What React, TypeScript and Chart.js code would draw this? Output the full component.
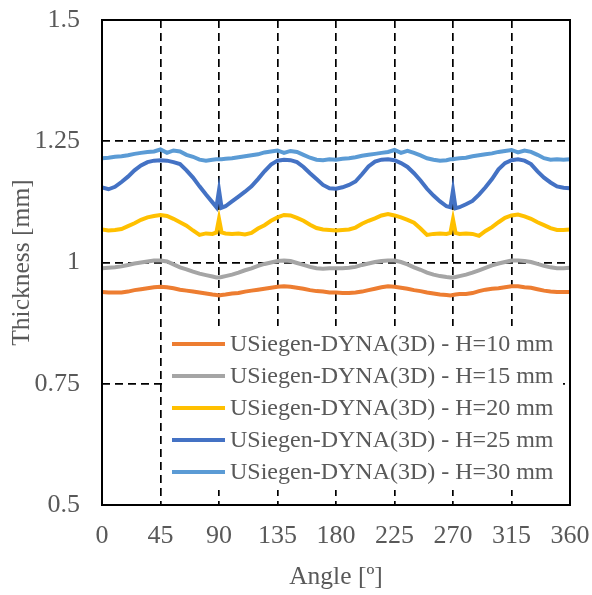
import React, { useEffect, useRef } from "react";
import { Chart, registerables } from "chart.js";
Chart.register(...registerables);

const angles = [0, 5, 10, 15, 20, 25, 30, 35, 40, 45, 50, 55, 60, 65, 70, 75, 80, 85, 88, 90, 92, 95, 100, 105, 110, 115, 120, 125, 130, 135, 140, 145, 150, 155, 160, 165, 170, 175, 180, 185, 190, 195, 200, 205, 210, 215, 220, 225, 230, 235, 240, 245, 250, 255, 260, 265, 268, 270, 272, 275, 280, 285, 290, 295, 300, 305, 310, 315, 320, 325, 330, 335, 340, 345, 350, 355, 360];

const h10 = [0.939, 0.938, 0.938, 0.938, 0.940, 0.943, 0.945, 0.947, 0.949, 0.950, 0.949, 0.947, 0.944, 0.942, 0.940, 0.938, 0.936, 0.934, 0.933, 0.932, 0.933, 0.934, 0.936, 0.937, 0.940, 0.942, 0.944, 0.946, 0.948, 0.950, 0.951, 0.950, 0.948, 0.946, 0.943, 0.941, 0.940, 0.938, 0.938, 0.937, 0.937, 0.938, 0.940, 0.943, 0.946, 0.949, 0.951, 0.950, 0.948, 0.946, 0.943, 0.941, 0.938, 0.936, 0.934, 0.933, 0.932, 0.933, 0.934, 0.935, 0.935, 0.937, 0.941, 0.944, 0.946, 0.947, 0.949, 0.951, 0.951, 0.949, 0.948, 0.945, 0.942, 0.940, 0.939, 0.939, 0.939];

const h15 = [0.988, 0.989, 0.990, 0.992, 0.995, 0.998, 1.000, 1.002, 1.004, 1.004, 1.002, 0.996, 0.990, 0.986, 0.981, 0.977, 0.974, 0.971, 0.969, 0.969, 0.970, 0.972, 0.975, 0.979, 0.984, 0.988, 0.993, 0.997, 1.000, 1.003, 1.004, 1.003, 0.999, 0.995, 0.991, 0.988, 0.987, 0.988, 0.988, 0.988, 0.989, 0.991, 0.995, 0.998, 1.001, 1.003, 1.004, 1.004, 1.001, 0.996, 0.990, 0.985, 0.979, 0.975, 0.972, 0.970, 0.969, 0.969, 0.970, 0.972, 0.975, 0.979, 0.984, 0.989, 0.994, 0.998, 1.001, 1.004, 1.004, 1.003, 1.001, 0.997, 0.993, 0.990, 0.988, 0.988, 0.989];

const h20 = [1.068, 1.066, 1.067, 1.069, 1.075, 1.081, 1.088, 1.093, 1.096, 1.098, 1.096, 1.090, 1.083, 1.076, 1.066, 1.057, 1.060, 1.059, 1.062, 1.090, 1.062, 1.060, 1.059, 1.060, 1.058, 1.061, 1.070, 1.077, 1.086, 1.093, 1.098, 1.097, 1.092, 1.086, 1.078, 1.071, 1.068, 1.067, 1.066, 1.067, 1.068, 1.072, 1.080, 1.086, 1.091, 1.097, 1.100, 1.097, 1.093, 1.088, 1.082, 1.070, 1.057, 1.059, 1.060, 1.059, 1.061, 1.089, 1.061, 1.059, 1.060, 1.059, 1.055, 1.065, 1.073, 1.083, 1.092, 1.097, 1.099, 1.095, 1.090, 1.083, 1.077, 1.071, 1.067, 1.067, 1.068];

const h25 = [1.155, 1.151, 1.156, 1.166, 1.177, 1.190, 1.200, 1.207, 1.210, 1.211, 1.210, 1.207, 1.203, 1.190, 1.175, 1.157, 1.140, 1.124, 1.114, 1.149, 1.113, 1.116, 1.126, 1.136, 1.146, 1.157, 1.172, 1.188, 1.202, 1.210, 1.212, 1.211, 1.207, 1.197, 1.184, 1.172, 1.160, 1.153, 1.152, 1.155, 1.160, 1.167, 1.182, 1.198, 1.208, 1.212, 1.213, 1.211, 1.205, 1.197, 1.184, 1.169, 1.152, 1.138, 1.126, 1.116, 1.114, 1.149, 1.112, 1.114, 1.120, 1.127, 1.140, 1.155, 1.172, 1.192, 1.205, 1.211, 1.213, 1.210, 1.203, 1.188, 1.175, 1.165, 1.157, 1.154, 1.153];

const h30 = [1.215, 1.216, 1.218, 1.219, 1.221, 1.224, 1.226, 1.228, 1.229, 1.233, 1.226, 1.231, 1.229, 1.222, 1.218, 1.212, 1.210, 1.212, 1.213, 1.213, 1.213, 1.214, 1.215, 1.217, 1.219, 1.221, 1.223, 1.227, 1.229, 1.231, 1.226, 1.230, 1.228, 1.222, 1.216, 1.212, 1.211, 1.213, 1.212, 1.214, 1.215, 1.217, 1.220, 1.222, 1.224, 1.226, 1.228, 1.232, 1.226, 1.230, 1.226, 1.221, 1.215, 1.212, 1.210, 1.211, 1.213, 1.213, 1.214, 1.215, 1.216, 1.219, 1.221, 1.223, 1.225, 1.228, 1.230, 1.232, 1.227, 1.231, 1.228, 1.222, 1.215, 1.212, 1.213, 1.212, 1.213];

const seriesLabels = [
  "USiegen-DYNA(3D) - H=10 mm",
  "USiegen-DYNA(3D) - H=15 mm",
  "USiegen-DYNA(3D) - H=20 mm",
  "USiegen-DYNA(3D) - H=25 mm",
  "USiegen-DYNA(3D) - H=30 mm",
];
const seriesValues = [h10, h15, h20, h25, h30];
const seriesColors = ["#ED7D31", "#A5A5A5", "#FFC000", "#4472C4", "#5B9BD5"];

const xTitle = "Angle [º]";
const yTitle = "Thickness [mm]";

const FONT = '"Liberation Serif", "Times New Roman", serif';
const TEXT = "#595959";

const framePlugin = {
  id: "frame",
  afterDatasetsDraw(chart: any) {
    const { ctx, chartArea: a } = chart;
    ctx.save();
    // legend box
    const lx = 164, ly = 326, lw = 399, lh = 164;
    ctx.fillStyle = "#fff";
    ctx.fillRect(lx, ly, lw, lh);
    ctx.font = `24px ${FONT}`;
    ctx.textBaseline = "middle";
    ctx.textAlign = "left";
    chart.data.datasets.forEach((ds: any, i: number) => {
      const y = 344 + i * 32;
      ctx.strokeStyle = ds.borderColor;
      ctx.lineWidth = 4;
      ctx.setLineDash([]);
      ctx.beginPath();
      ctx.moveTo(172, y);
      ctx.lineTo(225, y);
      ctx.stroke();
      ctx.fillStyle = TEXT;
      ctx.fillText(ds.label, 230, y + 1);
    });
    // frame
    ctx.strokeStyle = "#000";
    ctx.lineWidth = 2;
    ctx.setLineDash([]);
    ctx.strokeRect(a.left, a.top, a.right - a.left, a.bottom - a.top);
    // axis titles
    ctx.fillStyle = TEXT;
    ctx.font = `25.5px ${FONT}`;
    ctx.textAlign = "center";
    ctx.textBaseline = "middle";
    ctx.fillText(xTitle, (a.left + a.right) / 2, 577);
    ctx.translate(22, (a.top + a.bottom) / 2);
    ctx.rotate(-Math.PI / 2);
    ctx.fillText(yTitle, 0, 0);
    ctx.restore();
  },
};

export default function App() {
  const ref = useRef<HTMLCanvasElement>(null);
  useEffect(() => {
    if (!ref.current) return;
    const chart = new Chart(ref.current, {
      type: "line",
      data: {
        datasets: seriesValues.map((vals, i) => ({
          label: seriesLabels[i],
          data: angles.map((a, j) => ({ x: a, y: vals[j] })),
          borderColor: seriesColors[i],
          backgroundColor: seriesColors[i],
          borderWidth: 4,
          pointRadius: 0,
          tension: 0,
          fill: false,
        })),
      },
      options: {
        responsive: false,
        animation: false,
        devicePixelRatio: 1,
        layout: { padding: { top: 20, right: 22, bottom: 0, left: 0 } },
        plugins: { legend: { display: false }, tooltip: { enabled: false } },
        scales: {
          x: {
            type: "linear",
            min: 0,
            max: 360,
            afterFit: (s: any) => {
              s.height = 90;
              s.paddingLeft = 0;
              s.paddingRight = 0;
              s.paddingTop = 0;
              s.paddingBottom = 0;
            },
            ticks: {
              stepSize: 45,
              padding: 16,
              maxRotation: 0,
              color: TEXT,
              font: { family: FONT, size: 26 },
            },
            grid: { color: "#000", lineWidth: 1.7, drawTicks: false },
            border: { display: false, dash: [8, 5] },
          },
          y: {
            type: "linear",
            min: 0.5,
            max: 1.5,
            afterFit: (s: any) => {
              s.width = 102;
              s.paddingLeft = 0;
              s.paddingRight = 0;
              s.paddingTop = 0;
              s.paddingBottom = 0;
            },
            ticks: {
              stepSize: 0.25,
              padding: 22,
              color: TEXT,
              font: { family: FONT, size: 26 },
              callback: (v: any) => String(v),
            },
            grid: { color: "#000", lineWidth: 1.7, drawTicks: false },
            border: { display: false, dash: [8, 5] },
          },
        },
      },
      plugins: [framePlugin],
    });
    return () => chart.destroy();
  }, []);
  return (
    <div style={{ position: "absolute", left: 0, top: 0, width: 592, height: 595, background: "#fff" }}>
      <canvas ref={ref} width={592} height={595} style={{ display: "block" }} />
    </div>
  );
}
